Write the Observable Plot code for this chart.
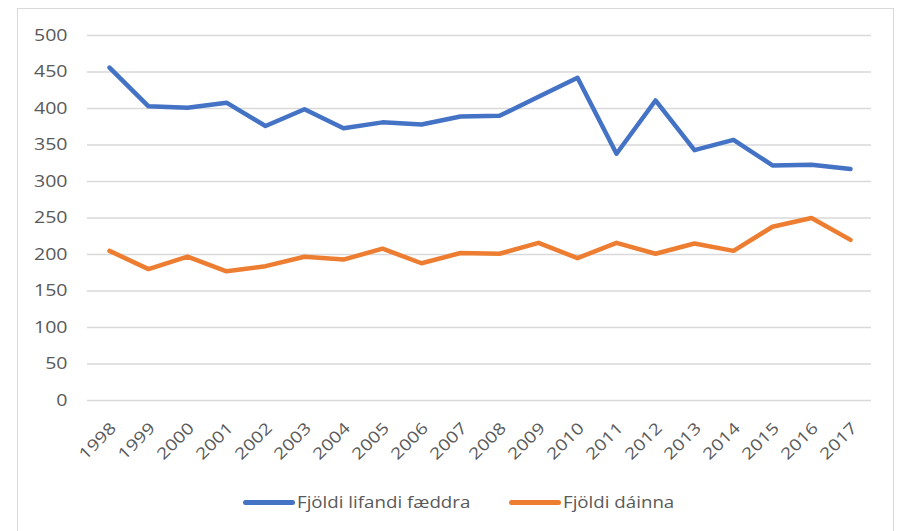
<!DOCTYPE html>
<html>
<head>
<meta charset="utf-8">
<script src="https://cdn.jsdelivr.net/npm/d3@7"></script>
<script src="https://cdn.jsdelivr.net/npm/@observablehq/plot@0.6"></script>
<style>
  html, body { margin: 0; padding: 0; background: #fff; }
  body { width: 897px; height: 531px; position: relative; overflow: hidden; font-family: "Open Sans", sans-serif; }
  #frame { position: absolute; left: 17px; top: 8px; width: 877px; height: 560px; border: 1px solid #d9d9d9; box-sizing: border-box; }
  #chart { position: absolute; left: 0; top: 0; }
  #legend { position: absolute; top: 490px; left: 0; width: 897px; height: 24px; font-size: 17px; color: #595959; }
  .swatch { position: absolute; top: 10px; width: 52px; height: 5px; border-radius: 3px; }
  .label { position: absolute; top: 0; white-space: nowrap; transform-origin: left center; transform: scaleX(1.1); line-height: 24px; }
</style>
</head>
<body>
<div id="frame"></div>
<div id="chart"></div>
<div id="legend"></div>
<script>
const years = [1998,1999,2000,2001,2002,2003,2004,2005,2006,2007,2008,2009,2010,2011,2012,2013,2014,2015,2016,2017];
const births = [456,403,401,408,376,399,373,381,378,389,390,416,442,338,411,343,357,322,323,317];
const deaths = [205,180,197,177,184,197,193,208,188,202,201,216,195,216,201,215,205,238,250,220];
const seriesNames = ["Fjöldi lifandi fæddra", "Fjöldi dáinna"];
const seriesColors = ["#4472C4", "#ED7D31"];
const yTicks = [0,50,100,150,200,250,300,350,400,450,500];

const data = [];
years.forEach((y, i) => {
  data.push({year: String(y), value: births[i], series: seriesNames[0]});
  data.push({year: String(y), value: deaths[i], series: seriesNames[1]});
});

const plot = Plot.plot({
  width: 897,
  height: 470,
  marginLeft: 87,
  marginRight: 26,
  marginTop: 35,
  marginBottom: 70,
  style: {fontFamily: "Open Sans, sans-serif", fontSize: "16px", color: "#595959", background: "transparent"},
  x: {type: "point", domain: years.map(String), padding: 0.5, label: null},
  y: {domain: [0, 500], ticks: yTicks, label: null},
  color: {domain: seriesNames, range: seriesColors},
  marks: [
    Plot.gridY(yTicks, {stroke: "#d9d9d9", strokeOpacity: 1, strokeWidth: 1.5}),
    Plot.axisY(yTicks, {tickSize: 0, tickPadding: 20, fontSize: 16, fill: "#595959"}),
    Plot.axisX({tickSize: 0, tickRotate: -45, tickPadding: 25, dx: 4, fontSize: 16, fill: "#595959", label: null}),
    Plot.line(data, {x: "year", y: "value", z: "series", stroke: "series", strokeWidth: 4.5, strokeLinecap: "round", strokeLinejoin: "round"})
  ]
});
document.getElementById("chart").appendChild(plot);

// widen tick labels to match the reference's wide lettering
plot.querySelectorAll("g[aria-label='y-axis tick label'] text, g[aria-label='x-axis tick label'] text").forEach(t => {
  const w = t.getComputedTextLength();
  t.setAttribute("textLength", (w * 1.22).toFixed(1));
  t.setAttribute("lengthAdjust", "spacingAndGlyphs");
});

const legend = document.getElementById("legend");
const legendX = [243, 509];
seriesNames.forEach((name, i) => {
  const sw = document.createElement("div");
  sw.className = "swatch";
  sw.style.left = legendX[i] + "px";
  sw.style.background = seriesColors[i];
  const label = document.createElement("span");
  label.className = "label";
  label.style.left = (legendX[i] + 54) + "px";
  label.textContent = name;
  legend.appendChild(sw);
  legend.appendChild(label);
});
</script>
</body>
</html>
